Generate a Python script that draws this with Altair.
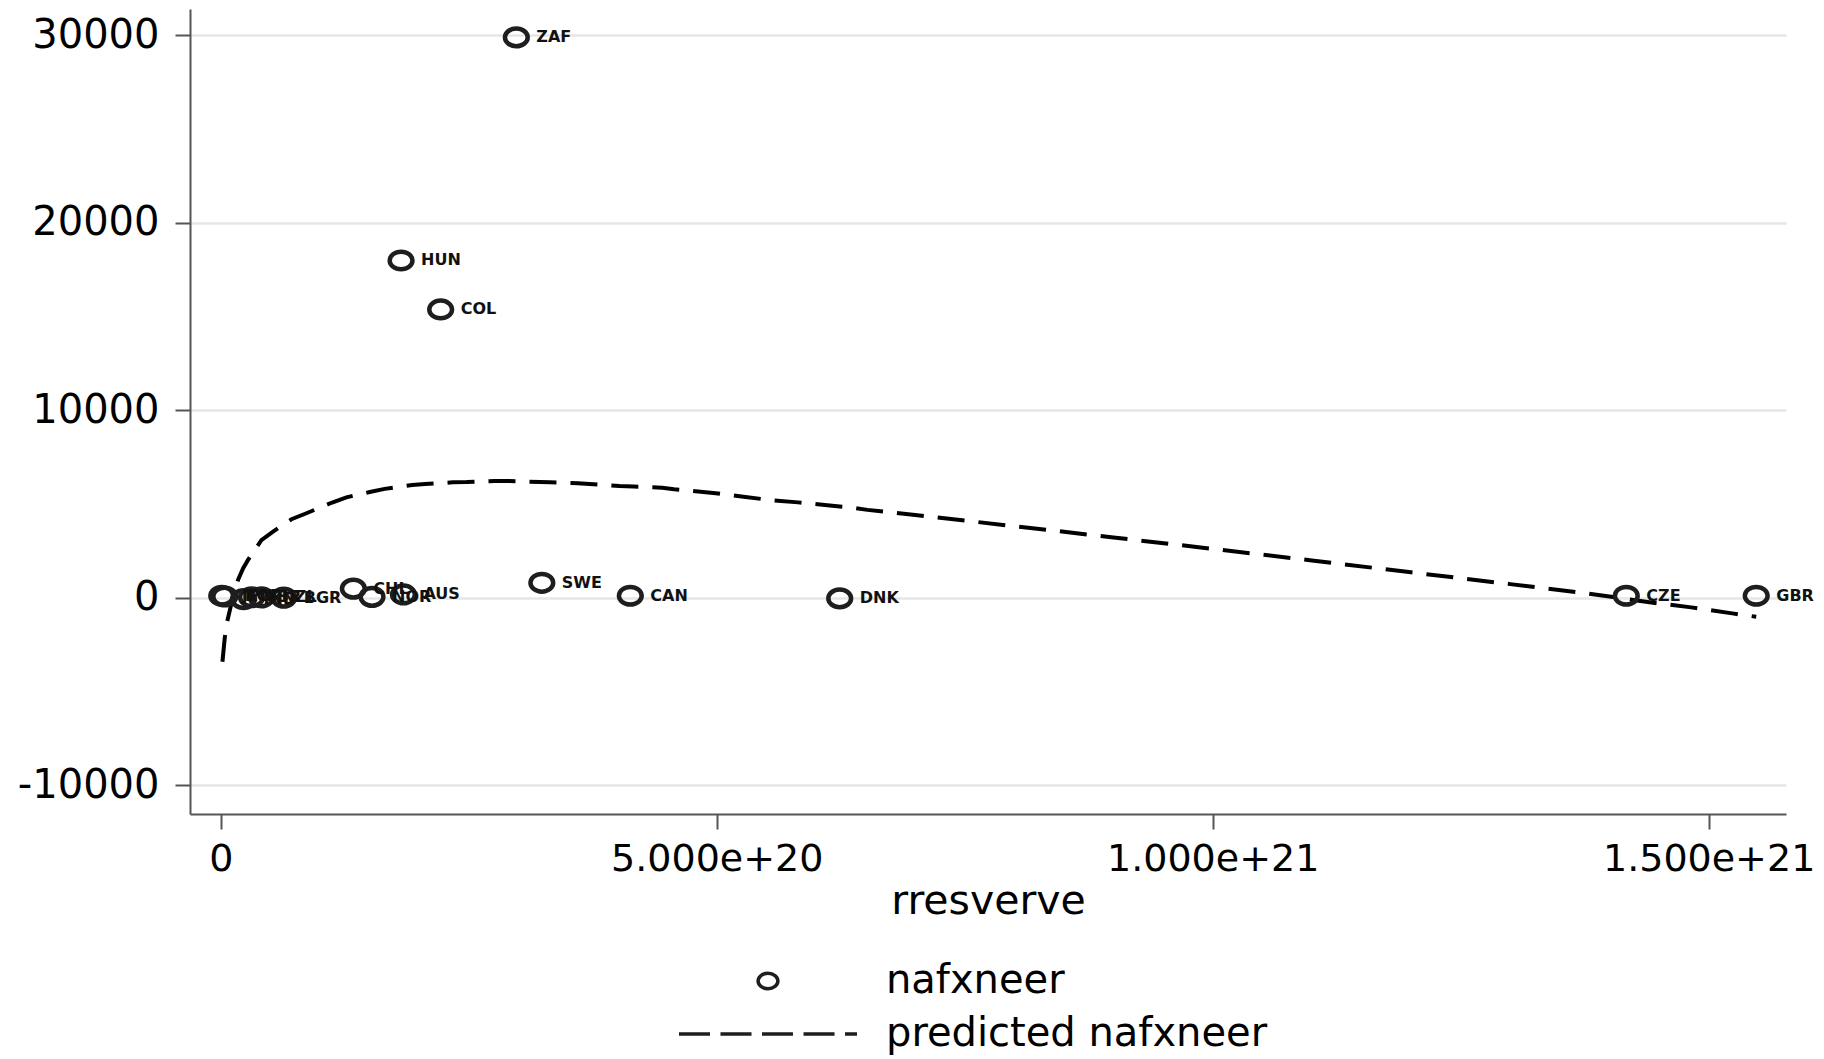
import altair as alt
import pandas as pd

# ---- data ----
countries = ["ZAF", "HUN", "COL", "SWE", "CAN", "DNK", "CZE", "GBR", "CHL", "NOR",
             "AUS", "BGR", "JPN", "KOR", "IND", "ISR", "NZL"]
rresverve = [2.98e20, 1.818e20, 2.217e20, 3.237e20, 4.129e20, 6.24e20, 1.417e21, 1.548e21,
             1.337e20, 1.525e20, 1.842e20, 6.35e19, 1.0e18, 4.0e18, 2.3e19, 3.1e19, 4.1e19]
nafxneer = [29900, 18000, 15390, 810, 120, -20, 120, 120, 500, 60,
            190, 20, 120, 80, -60, 40, 30]

fit_x = [1.7e18, 4.0e18, 5.7e18, 1.08e19, 1.74e19, 2.25e19, 2.75e19, 4.1e19, 5.27e19,
         7.13e19, 8.64e19, 1.116e20, 1.267e20, 1.502e20, 1.653e20, 1.93e20, 2.06e20,
         2.34e20, 2.48e20, 2.76e20, 2.91e20, 3.32e20, 3.6e20, 4.02e20, 4.16e20, 4.45e20,
         4.57e20, 4.99e20, 5.27e20, 5.53e20, 5.82e20, 6.09e20, 6.37e20, 6.52e20, 7.0e20,
         8.0e20, 9.0e20, 1.0e21, 1.1e21, 1.2e21, 1.3e21, 1.3716e21, 1.4018e21, 1.4404e21,
         1.4825e21, 1.5238e21, 1.548e21]
fit_y = [-3400, -2150, -1440, -280, 960, 1580, 2030, 3090, 3540,
         4200, 4520, 5080, 5370, 5650, 5820, 6030, 6080,
         6170, 6180, 6240, 6240, 6170, 6120, 5970, 5940, 5880,
         5800, 5590, 5400, 5230, 5100, 4960, 4820, 4700, 4430,
         3830, 3230, 2620, 2000, 1370, 740, 283, 70, -230,
         -500, -820, -1000]

x_ticks = [0, 5e20, 1e21, 1.5e21]
y_ticks = [-10000, 0, 10000, 20000, 30000]
series_names = ["nafxneer", "predicted nafxneer"]

pts = pd.DataFrame({"country": countries, "rresverve": rresverve,
                    "nafxneer": nafxneer, "series": series_names[0]})
fit = pd.DataFrame({"rresverve": fit_x, "pred": fit_y})

ELLIPSE = "M-0.9,0A0.9,0.7 0 1,1 0.9,0A0.9,0.7 0 1,1 -0.9,0Z"
DASH = "M-8.09,0H-5.27M-4.32,0H-1.5M-0.545,0H2.27M3.23,0H6.05M7.0,0H8.09"

xscale = alt.Scale(domain=[-3.1e19, 1.578e21], nice=False, zero=False)
yscale = alt.Scale(domain=[-11520, 31413], nice=False, zero=False)

xaxis = alt.Axis(values=x_ticks, grid=False,
                 labelExpr="datum.value == 0 ? '0' : format(datum.value, '.3e')",
                 labelFont="DejaVu Sans", labelFontSize=38, labelColor="#000",
                 labelPadding=11, tickSize=15, tickWidth=2, tickColor="#555",
                 domainColor="#555", domainWidth=2, labelFlush=False, labelLimit=0,
                 labelOverlap=False,
                 title="rresverve", titleFont="DejaVu Sans", titleFontSize=41,
                 titleFontWeight="normal", titleColor="#000", titlePadding=3)
yaxis = alt.Axis(values=y_ticks, grid=True, gridColor="#e6e6e6", gridWidth=2.5,
                 labelExpr="'' + datum.value",
                 labelFont="DejaVu Sans", labelFontSize=40, labelColor="#000",
                 labelPadding=16, tickSize=15, tickWidth=2, tickColor="#555",
                 domainColor="#555", domainWidth=2, title=None)

x = alt.X("rresverve:Q", scale=xscale, axis=xaxis)

line = alt.Chart(fit).mark_line(color="#000", strokeWidth=4, strokeDash=[27, 14]).encode(
    x=x,
    y=alt.Y("pred:Q", scale=yscale, axis=yaxis),
)

points = alt.Chart(pts).mark_point(filled=False, size=640, strokeWidth=4.5,
                                   color="#1e1e1e", opacity=1).encode(
    x=x,
    y=alt.Y("nafxneer:Q", scale=yscale, axis=yaxis),
    shape=alt.Shape("series:N",
                    scale=alt.Scale(domain=series_names, range=[ELLIPSE, DASH]),
                    legend=alt.Legend(title=None, orient="none", legendX=558, legendY=952,
                                      direction="vertical", symbolSize=484,
                                      symbolStrokeWidth=3.5, symbolStrokeColor="#1e1e1e",
                                      symbolFillColor="transparent",
                                      labelFont="DejaVu Sans", labelFontSize=40,
                                      labelColor="#000", labelOffset=98, rowPadding=13,
                                      padding=0, labelLimit=0)),
)

labels = alt.Chart(pts).mark_text(align="left", baseline="middle", dx=20,
                                  font="DejaVu Sans", fontWeight="bold", fontSize=16,
                                  color="#111").encode(
    x=x,
    y=alt.Y("nafxneer:Q", scale=yscale, axis=yaxis),
    text="country:N",
)

chart = alt.layer(line, points, labels).properties(
    width=1596, height=805,
    padding={"left": 182, "top": 1, "right": 28, "bottom": 245},
    autosize=alt.AutoSizeParams(type="none"),
    background="white",
).configure_view(stroke=None)

chart.save("out.html", embed_options={"renderer": "svg", "actions": False})
